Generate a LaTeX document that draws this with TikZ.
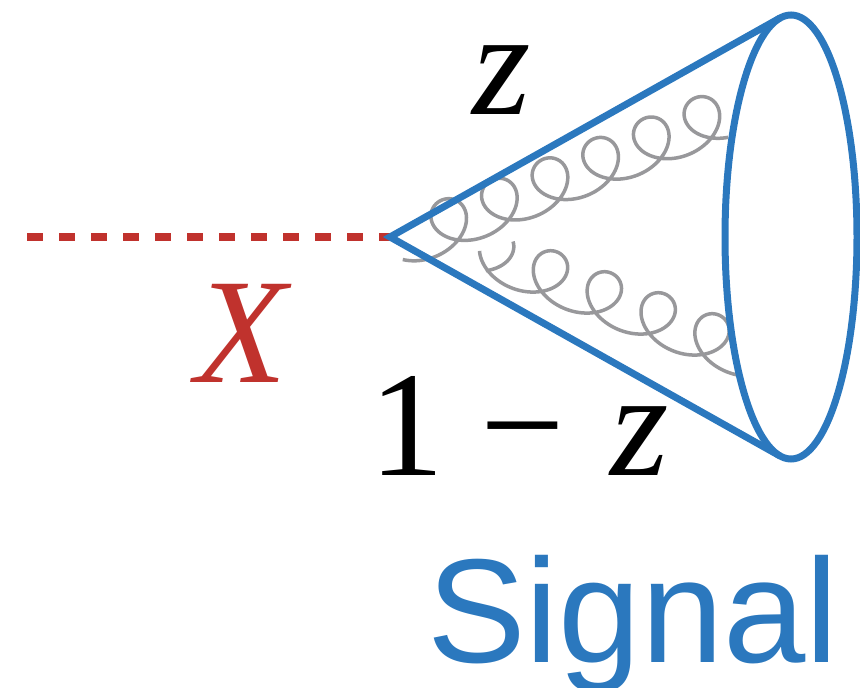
\documentclass[tikz,border=0pt]{standalone}
\usepackage{fontspec}
\setmainfont{Liberation Serif}
\newfontfamily\sigfont{Liberation Sans}
\definecolor{cblue}{RGB}{43,120,190}
\definecolor{cred}{RGB}{192,50,45}
\definecolor{cgray}{RGB}{152,152,155}
\begin{document}
\begin{tikzpicture}[x=1pt,y=1pt,
  cone/.style={draw=cblue, line width=7pt},
  scalar/.style={draw=cred, line width=8pt, dash pattern=on 16pt off 16pt},
  gluon/.style={draw=cgray, line width=3.5pt},
  lbl/.style={inner sep=0pt, anchor=base west},
  big/.style={font=\fontsize{150}{150}\selectfont}]
\useasboundingbox (0,0) rectangle (860,688);
\coordinate (apex) at (390,451);
\coordinate (xstart) at (27,451);
\coordinate (ecen) at (791,451);
\coordinate (ctop) at (780,670);
\coordinate (cbot) at (780,232);
% scalar line
\draw[scalar] (xstart) -- (apex);
% upper gluon
\begin{scope}[shift={(426,454.6)}, rotate=21.96]
  \draw[gluon] plot[domain=-0.9:37.4, samples=500] ({8.69*\x + 30*sin(\x r)}, {-25*cos(\x r)});
\end{scope}
% lower gluon
\begin{scope}[shift={(467,444.3)}, rotate=-21.3]
  \draw[gluon] plot[domain=0.75:2.42, samples=40] ({9.2*\x + 30*sin(\x r)}, {-25*cos(\x r)});
  \draw[gluon] plot[domain=4.8:31.77, samples=450] ({9.2*\x + 30*sin(\x r)}, {-25*cos(\x r)});
\end{scope}
% cone
\draw[cone, line join=miter] (ctop) -- (apex) -- (cbot);
\draw[cone] (ecen) ellipse [x radius=66, y radius=222];
% labels
\node[lbl, big, text height=0.5em, text depth=0.1em] (zlab) at (472,573) {\textit{z}};
\node[lbl, big, text=cred] (xlab) at (195,305) {\textit{X}};
\node[lbl, big] (omz) at (369,212) {1\hspace{36pt}−\hspace{46pt}\textit{z}};
\node[lbl, font=\fontsize{148}{148}\sigfont, text=cblue, text depth=0pt] (sig) at (427,25) {Signal};
\end{tikzpicture}
\end{document}
